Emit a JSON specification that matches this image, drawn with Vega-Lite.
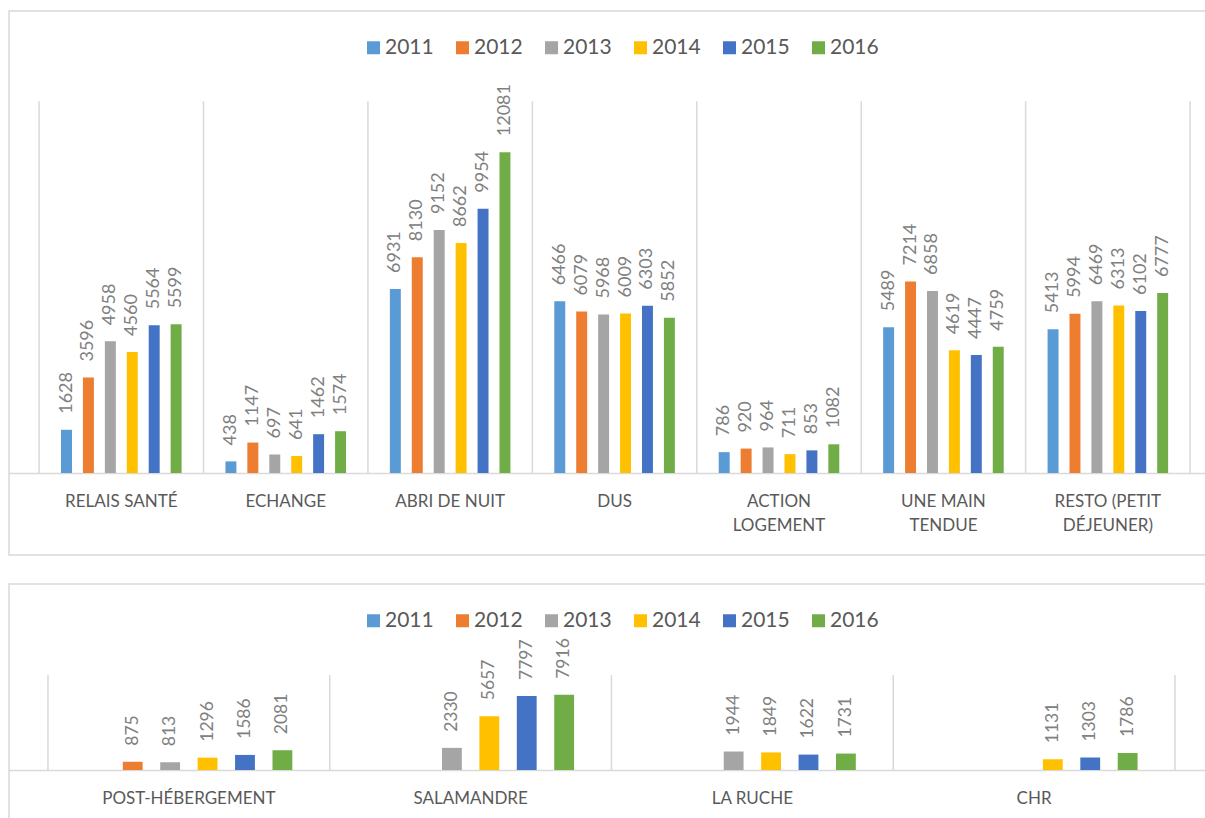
{
  "$schema": "https://vega.github.io/schema/vega-lite/v6.json",
  "padding": {"left": 8, "top": 10, "right": 0, "bottom": 0},
  "background": "white",
  "spacing": 27,
  "config": {
    "view": {"stroke": "#d9d9d9", "strokeWidth": 1.5},
    "font": "Lato"
  },
  "resolve": {"scale": {"color": "independent", "x": "independent", "y": "independent", "xOffset": "independent"}},
  "datasets": {
    "top": [
      {"cat": "RELAIS SANTÉ", "year": "2011", "v": 1628},
      {"cat": "RELAIS SANTÉ", "year": "2012", "v": 3596},
      {"cat": "RELAIS SANTÉ", "year": "2013", "v": 4958},
      {"cat": "RELAIS SANTÉ", "year": "2014", "v": 4560},
      {"cat": "RELAIS SANTÉ", "year": "2015", "v": 5564},
      {"cat": "RELAIS SANTÉ", "year": "2016", "v": 5599},
      {"cat": "ECHANGE", "year": "2011", "v": 438},
      {"cat": "ECHANGE", "year": "2012", "v": 1147},
      {"cat": "ECHANGE", "year": "2013", "v": 697},
      {"cat": "ECHANGE", "year": "2014", "v": 641},
      {"cat": "ECHANGE", "year": "2015", "v": 1462},
      {"cat": "ECHANGE", "year": "2016", "v": 1574},
      {"cat": "ABRI DE NUIT", "year": "2011", "v": 6931},
      {"cat": "ABRI DE NUIT", "year": "2012", "v": 8130},
      {"cat": "ABRI DE NUIT", "year": "2013", "v": 9152},
      {"cat": "ABRI DE NUIT", "year": "2014", "v": 8662},
      {"cat": "ABRI DE NUIT", "year": "2015", "v": 9954},
      {"cat": "ABRI DE NUIT", "year": "2016", "v": 12081},
      {"cat": "DUS", "year": "2011", "v": 6466},
      {"cat": "DUS", "year": "2012", "v": 6079},
      {"cat": "DUS", "year": "2013", "v": 5968},
      {"cat": "DUS", "year": "2014", "v": 6009},
      {"cat": "DUS", "year": "2015", "v": 6303},
      {"cat": "DUS", "year": "2016", "v": 5852},
      {"cat": "ACTION LOGEMENT", "year": "2011", "v": 786},
      {"cat": "ACTION LOGEMENT", "year": "2012", "v": 920},
      {"cat": "ACTION LOGEMENT", "year": "2013", "v": 964},
      {"cat": "ACTION LOGEMENT", "year": "2014", "v": 711},
      {"cat": "ACTION LOGEMENT", "year": "2015", "v": 853},
      {"cat": "ACTION LOGEMENT", "year": "2016", "v": 1082},
      {"cat": "UNE MAIN TENDUE", "year": "2011", "v": 5489},
      {"cat": "UNE MAIN TENDUE", "year": "2012", "v": 7214},
      {"cat": "UNE MAIN TENDUE", "year": "2013", "v": 6858},
      {"cat": "UNE MAIN TENDUE", "year": "2014", "v": 4619},
      {"cat": "UNE MAIN TENDUE", "year": "2015", "v": 4447},
      {"cat": "UNE MAIN TENDUE", "year": "2016", "v": 4759},
      {"cat": "RESTO (PETIT DÉJEUNER)", "year": "2011", "v": 5413},
      {"cat": "RESTO (PETIT DÉJEUNER)", "year": "2012", "v": 5994},
      {"cat": "RESTO (PETIT DÉJEUNER)", "year": "2013", "v": 6469},
      {"cat": "RESTO (PETIT DÉJEUNER)", "year": "2014", "v": 6313},
      {"cat": "RESTO (PETIT DÉJEUNER)", "year": "2015", "v": 6102},
      {"cat": "RESTO (PETIT DÉJEUNER)", "year": "2016", "v": 6777}
    ],
    "bottom": [
      {"cat": "POST-HÉBERGEMENT", "year": "2012", "v": 875},
      {"cat": "POST-HÉBERGEMENT", "year": "2013", "v": 813},
      {"cat": "POST-HÉBERGEMENT", "year": "2014", "v": 1296},
      {"cat": "POST-HÉBERGEMENT", "year": "2015", "v": 1586},
      {"cat": "POST-HÉBERGEMENT", "year": "2016", "v": 2081},
      {"cat": "SALAMANDRE", "year": "2013", "v": 2330},
      {"cat": "SALAMANDRE", "year": "2014", "v": 5657},
      {"cat": "SALAMANDRE", "year": "2015", "v": 7797},
      {"cat": "SALAMANDRE", "year": "2016", "v": 7916},
      {"cat": "LA RUCHE", "year": "2013", "v": 1944},
      {"cat": "LA RUCHE", "year": "2014", "v": 1849},
      {"cat": "LA RUCHE", "year": "2015", "v": 1622},
      {"cat": "LA RUCHE", "year": "2016", "v": 1731},
      {"cat": "CHR", "year": "2014", "v": 1131},
      {"cat": "CHR", "year": "2015", "v": 1303},
      {"cat": "CHR", "year": "2016", "v": 1786}
    ]
  },
  "vconcat": [
    {
      "width": 1198,
      "height": 544,
      "data": {"name": "top"},
      "layer": [
        {
          "transform": [{"aggregate": [{"op": "count", "as": "n"}], "groupby": ["cat"]}],
          "mark": {"type": "rule", "color": "#d9d9d9", "strokeWidth": 1.5},
          "encoding": {
            "x": {"field": "cat", "type": "nominal", "bandPosition": 0,
                  "scale": {"domain": ["RELAIS SANTÉ", "ECHANGE", "ABRI DE NUIT", "DUS", "ACTION LOGEMENT", "UNE MAIN TENDUE", "RESTO (PETIT DÉJEUNER)"], "paddingInner": 0, "paddingOuter": 0.143, "align": 0.64},
                  "axis": {"title": null, "ticks": false, "domain": true, "domainColor": "#d9d9d9", "domainWidth": 1.5, "offset": -82, "labelAngle": 0, "labelFontSize": 17, "labelFont": "Lato", "labelColor": "#595959", "labelPadding": 20, "labelBaseline": "top", "labelLineHeight": 24, "labelLimit": 0, "grid": false,
                           "labelExpr": "datum.label == 'ACTION LOGEMENT' ? ['ACTION', 'LOGEMENT'] : datum.label == 'UNE MAIN TENDUE' ? ['UNE MAIN', 'TENDUE'] : datum.label == 'RESTO (PETIT DÉJEUNER)' ? ['RESTO (PETIT', 'DÉJEUNER)'] : datum.label"}},
            "y": {"datum": 0, "type": "quantitative", "scale": {"domain": [-3088, 17401], "nice": false, "zero": false}, "axis": null},
            "y2": {"datum": 14000}
          }
        },
        {
          "transform": [{"filter": "datum.cat == 'RESTO (PETIT DÉJEUNER)'"}, {"aggregate": [{"op": "count", "as": "n"}], "groupby": ["cat"]}],
          "mark": {"type": "rule", "color": "#d9d9d9", "strokeWidth": 1.5},
          "encoding": {
            "x": {"field": "cat", "type": "nominal", "bandPosition": 1},
            "y": {"datum": 0, "type": "quantitative"},
            "y2": {"datum": 14000}
          }
        },
        {
          "mark": {"type": "bar"},
          "encoding": {
            "x": {"field": "cat", "type": "nominal"},
            "xOffset": {"field": "year", "type": "nominal", "scale": {"domain": ["2011", "2012", "2013", "2014", "2015", "2016"], "paddingInner": 0.5, "paddingOuter": 1.2}},
            "y": {"field": "v", "type": "quantitative", "stack": null},
            "color": {"field": "year", "type": "nominal",
                      "scale": {"domain": ["2011", "2012", "2013", "2014", "2015", "2016"], "range": ["#5B9BD5", "#ED7D31", "#A5A5A5", "#FFC000", "#4472C4", "#70AD47"]},
                      "legend": {"orient": "none", "legendX": 354, "legendY": 26, "direction": "horizontal", "columns": 6, "title": null, "symbolType": "square", "symbolSize": 169, "symbolStrokeWidth": 0, "labelFontSize": 21, "labelFont": "Lato", "labelColor": "#595959", "labelOffset": 1, "columnPadding": 18}}
          }
        },
        {
          "mark": {"type": "text", "angle": 270, "align": "left", "baseline": "middle", "dx": 16, "fontSize": 18, "font": "Lato", "color": "#808080"},
          "encoding": {
            "x": {"field": "cat", "type": "nominal"},
            "xOffset": {"field": "year", "type": "nominal"},
            "y": {"field": "v", "type": "quantitative", "stack": null},
            "text": {"field": "v", "type": "quantitative", "format": "d"}
          }
        }
      ]
    },
    {
      "width": 1198,
      "height": 245,
      "data": {"name": "bottom"},
      "layer": [
        {
          "transform": [{"aggregate": [{"op": "count", "as": "n"}], "groupby": ["cat"]}],
          "mark": {"type": "rule", "color": "#d9d9d9", "strokeWidth": 1.5},
          "encoding": {
            "x": {"field": "cat", "type": "nominal", "bandPosition": 0,
                  "scale": {"domain": ["POST-HÉBERGEMENT", "SALAMANDRE", "LA RUCHE", "CHR"], "paddingInner": 0, "paddingOuter": 0.126, "align": 0.549},
                  "axis": {"title": null, "ticks": false, "domain": true, "domainColor": "#d9d9d9", "domainWidth": 1.5, "offset": -59, "labelAngle": 0, "labelFontSize": 17, "labelFont": "Lato", "labelColor": "#595959", "labelPadding": 20, "labelBaseline": "top", "labelLimit": 0, "grid": false}},
            "y": {"datum": 0, "type": "quantitative", "scale": {"domain": [-6211, 19579], "nice": false, "zero": false}, "axis": null},
            "y2": {"datum": 10000}
          }
        },
        {
          "transform": [{"filter": "datum.cat == 'CHR'"}, {"aggregate": [{"op": "count", "as": "n"}], "groupby": ["cat"]}],
          "mark": {"type": "rule", "color": "#d9d9d9", "strokeWidth": 1.5},
          "encoding": {
            "x": {"field": "cat", "type": "nominal", "bandPosition": 1},
            "y": {"datum": 0, "type": "quantitative"},
            "y2": {"datum": 10000}
          }
        },
        {
          "mark": {"type": "bar"},
          "encoding": {
            "x": {"field": "cat", "type": "nominal"},
            "xOffset": {"field": "year", "type": "nominal", "scale": {"domain": ["2011", "2012", "2013", "2014", "2015", "2016"], "paddingInner": 0.47, "paddingOuter": 1.15}},
            "y": {"field": "v", "type": "quantitative", "stack": null},
            "color": {"field": "year", "type": "nominal",
                      "scale": {"domain": ["2011", "2012", "2013", "2014", "2015", "2016"], "range": ["#5B9BD5", "#ED7D31", "#A5A5A5", "#FFC000", "#4472C4", "#70AD47"]},
                      "legend": {"orient": "none", "legendX": 354, "legendY": 26, "direction": "horizontal", "columns": 6, "title": null, "symbolType": "square", "symbolSize": 169, "symbolStrokeWidth": 0, "labelFontSize": 21, "labelFont": "Lato", "labelColor": "#595959", "labelOffset": 1, "columnPadding": 18}}
          }
        },
        {
          "mark": {"type": "text", "angle": 270, "align": "left", "baseline": "middle", "dx": 16, "fontSize": 17.5, "font": "Lato", "color": "#808080"},
          "encoding": {
            "x": {"field": "cat", "type": "nominal"},
            "xOffset": {"field": "year", "type": "nominal"},
            "y": {"field": "v", "type": "quantitative", "stack": null},
            "text": {"field": "v", "type": "quantitative", "format": "d"}
          }
        }
      ]
    }
  ]
}
